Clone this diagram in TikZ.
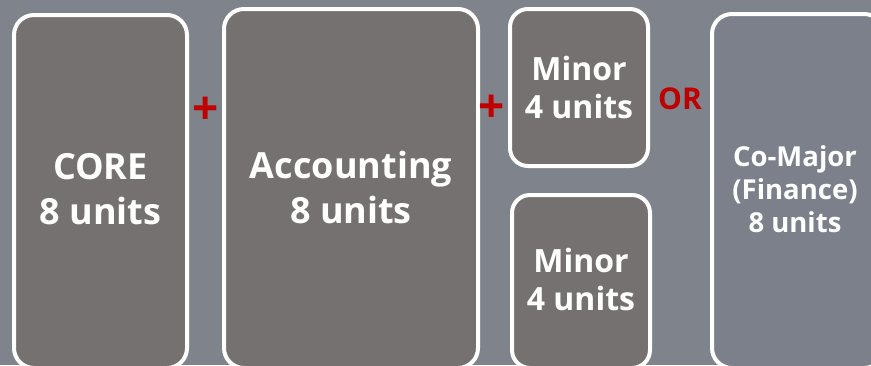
\documentclass[tikz,border=0pt]{standalone}
\usepackage{fontspec}
\setmainfont{Open Sans}
\usetikzlibrary{positioning}

\definecolor{slate}{HTML}{7F848C}
\definecolor{boxgrey}{HTML}{757170}
\definecolor{comajorgrey}{HTML}{7B808A}
\definecolor{plusred}{HTML}{C00000}

\tikzset{
  unitbox/.style={draw=white,line width=4pt,fill=boxgrey,rounded corners=20pt,inner sep=0pt},
  minorbox/.style={unitbox,rounded corners=18pt},
  altbox/.style={unitbox,fill=comajorgrey},
  boxtext/.style={inner sep=0pt,align=center,text=white,
    font=\fontsize{36}{45}\selectfont\bfseries},
  minortext/.style={boxtext,font=\fontsize{32}{38}\selectfont\bfseries},
  alttext/.style={boxtext,font=\fontsize{27.5}{33}\selectfont\bfseries},
  joiner/.style={text=plusred,inner sep=0pt,font=\fontsize{46}{46}\selectfont\bfseries}
}

\begin{document}
\begin{tikzpicture}[x=1pt,y=-1pt]
\fill[slate] (0,0) rectangle (871,365);
\useasboundingbox (0,0) rectangle (871,365);

% boxes (the lower ones run off the page)
\node[unitbox,minimum width=173pt,minimum height=353pt] (core) at (100.5,191.5) {};
\node[unitbox,minimum width=254pt,minimum height=359pt] (acct) at (351,188.5) {};
\node[minorbox,minimum width=138pt,minimum height=157pt] (minorA) at (579,87.5) {};
\node[minorbox,minimum width=138pt,minimum height=173pt] (minorB) at (581,281.5) {};
\node[altbox,minimum width=172pt,minimum height=354pt] (comajor) at (798,191) {};

% what is in them
\node[boxtext] (coreText) at (100.5,189) {CORE\\8 units};
\node[boxtext] (acctText) at (351,187.5) {Accounting\\8 units};
\node[minortext] (minorAText) at (579,87.5) {Minor\\4 units};
\node[minortext] (minorBText) at (581,279) {Minor\\4 units};
\node[alttext] (comajorText) at (795,189) {Co-Major\\(Finance)\\8 units};

\node[joiner] (plusA) at (206,111) {+};
\node[joiner] (plusB) at (492,109) {+};
\node[joiner,font=\fontsize{30}{30}\selectfont\bfseries] (orlabel) at (680,99) {OR};
\end{tikzpicture}
\end{document}
